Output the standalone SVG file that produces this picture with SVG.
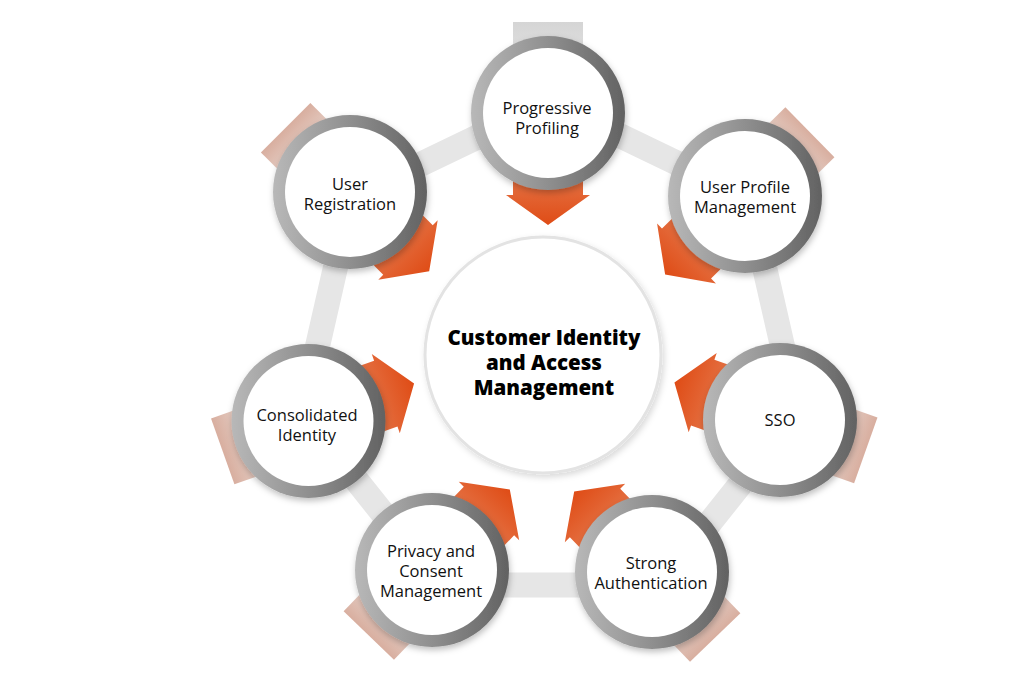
<svg xmlns="http://www.w3.org/2000/svg" width="1024" height="677" viewBox="0 0 1024 677">
<style>
.lbl{font-family:"Open Sans","Liberation Sans",sans-serif;font-size:16.5px;font-weight:500;fill:#111;text-anchor:middle}
.ctr{font-family:"Open Sans","Liberation Sans",sans-serif;font-size:20.5px;font-weight:800;fill:#000;text-anchor:middle}
.ring{fill:url(#ringG);filter:url(#sh)}
.inner{fill:#fff}
.arrow{fill:url(#arrG)}
.tab{fill:url(#tabG)}
</style>
<defs>
<linearGradient id="ringG" x1="0" y1="0" x2="1" y2="0">
<stop offset="0" stop-color="#b8b8b8"/>
<stop offset="0.5" stop-color="#8f8f8f"/>
<stop offset="1" stop-color="#626262"/>
</linearGradient>
<linearGradient id="arrG" gradientUnits="userSpaceOnUse" x1="70" y1="0" x2="112" y2="0">
<stop offset="0" stop-color="#e46d3e"/>
<stop offset="1" stop-color="#df4c16"/>
</linearGradient>
<linearGradient id="tabG" gradientUnits="userSpaceOnUse" x1="-91" y1="0" x2="-62" y2="0">
<stop offset="0" stop-color="#d8ae9f"/>
<stop offset="1" stop-color="#e6cfc6"/>
</linearGradient>
<linearGradient id="tabGrey" gradientUnits="userSpaceOnUse" x1="-91" y1="0" x2="-62" y2="0">
<stop offset="0" stop-color="#d5d5d5"/>
<stop offset="1" stop-color="#dedede"/>
</linearGradient>
<filter id="sh" x="-20%" y="-20%" width="140%" height="140%">
<feDropShadow dx="1" dy="3" stdDeviation="3" flood-color="#000" flood-opacity="0.25"/>
</filter>
<filter id="csh" x="-20%" y="-20%" width="140%" height="140%">
<feDropShadow dx="2" dy="3" stdDeviation="3" flood-color="#000" flood-opacity="0.15"/>
</filter>
<path id="arrowShape" d="M0,-35 H82 V-42 L112,0 L82,42 V35 H0 Z"/>
<rect id="tabShape" x="-91" y="-35" width="91" height="70"/>
</defs>
<rect width="1024" height="677" fill="#fff"/>

<g id="connectors">
<polygon points="550,102 748.6,197.6 797.6,412.5 660.2,584.9 439.8,584.9 302.4,412.5 351.4,197.6" fill="none" stroke="#e6e6e6" stroke-width="25"/>
</g>

<g id="center">
<circle cx="543" cy="355" r="118" fill="#fff" stroke="#e3e3e3" stroke-width="3" filter="url(#csh)"/>
<text class="ctr"><tspan x="544" y="345">Customer Identity</tspan><tspan x="544" y="370">and Access</tspan><tspan x="544" y="395">Management</tspan></text>
</g>

<g id="node-progressive-profiling">
<g transform="translate(548,113) rotate(90)">
<use href="#tabShape" fill="url(#tabGrey)"/>
<use href="#arrowShape" class="arrow"/>
</g>
<circle class="ring" cx="548" cy="113" r="77"/>
<circle class="inner" cx="548" cy="113" r="65"/>
<text class="lbl"><tspan x="547" y="114">Progressive</tspan><tspan x="547" y="134">Profiling</tspan></text>
</g>

<g id="node-user-profile-management">
<g transform="translate(745,196) rotate(135.5)">
<use href="#tabShape" class="tab"/>
<use href="#arrowShape" class="arrow"/>
</g>
<circle class="ring" cx="745" cy="196" r="77"/>
<circle class="inner" cx="745" cy="196" r="65"/>
<text class="lbl"><tspan x="745" y="193">User Profile</tspan><tspan x="745" y="213">Management</tspan></text>
</g>

<g id="node-sso">
<g transform="translate(780,420) rotate(199.5)">
<use href="#tabShape" class="tab"/>
<use href="#arrowShape" class="arrow"/>
</g>
<circle class="ring" cx="780" cy="420" r="77"/>
<circle class="inner" cx="780" cy="420" r="65"/>
<text class="lbl" x="780" y="425.5">SSO</text>
</g>

<g id="node-strong-authentication">
<g transform="translate(652,572) rotate(226)">
<use href="#tabShape" class="tab"/>
<use href="#arrowShape" class="arrow"/>
</g>
<circle class="ring" cx="652" cy="572" r="77"/>
<circle class="inner" cx="652" cy="572" r="65"/>
<text class="lbl"><tspan x="651" y="569">Strong</tspan><tspan x="651" y="589">Authentication</tspan></text>
</g>

<g id="node-privacy-consent">
<g transform="translate(432,570) rotate(-46)">
<use href="#tabShape" class="tab"/>
<use href="#arrowShape" class="arrow"/>
</g>
<circle class="ring" cx="432" cy="570" r="77"/>
<circle class="inner" cx="432" cy="570" r="65"/>
<text class="lbl"><tspan x="431" y="557">Privacy and</tspan><tspan x="431" y="577">Consent</tspan><tspan x="431" y="597">Management</tspan></text>
</g>

<g id="node-consolidated-identity">
<g transform="translate(308.5,421) rotate(-19.5)">
<use href="#tabShape" class="tab"/>
<use href="#arrowShape" class="arrow"/>
</g>
<circle class="ring" cx="308.5" cy="421" r="77"/>
<circle class="inner" cx="308.5" cy="421" r="65"/>
<text class="lbl"><tspan x="307" y="420.5">Consolidated</tspan><tspan x="307" y="440.5">Identity</tspan></text>
</g>

<g id="node-user-registration">
<g transform="translate(350,192) rotate(45)">
<use href="#tabShape" class="tab"/>
<use href="#arrowShape" class="arrow"/>
</g>
<circle class="ring" cx="350" cy="192" r="77"/>
<circle class="inner" cx="350" cy="192" r="65"/>
<text class="lbl"><tspan x="350" y="190">User</tspan><tspan x="350" y="210">Registration</tspan></text>
</g>
</svg>
